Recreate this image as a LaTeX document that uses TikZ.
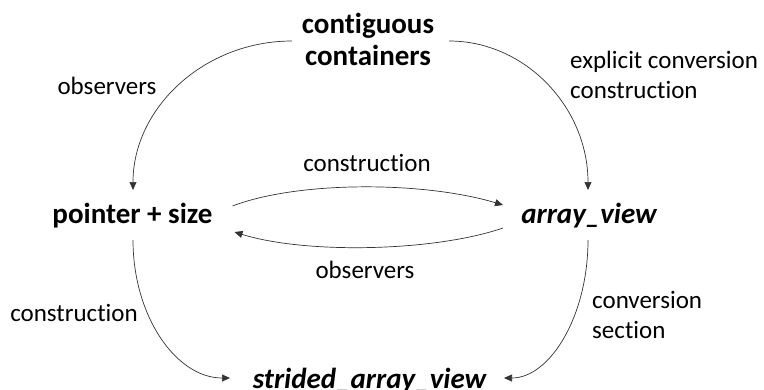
\documentclass[tikz,border=0pt]{standalone}
\usepackage{fontspec}
\setmainfont{Carlito}[Ligatures=NoCommon]
\usetikzlibrary{arrows.meta,calc}
\begin{document}
\begin{tikzpicture}[x=1pt,y=-1pt,
  title/.style={font=\fontsize{29}{32}\selectfont\bfseries, inner sep=0pt, anchor=base, align=center},
  lbltext/.style={font=\fontsize{25}{30}\selectfont, inner sep=0pt, anchor=base},
  edgeline/.style={draw=black!80, line width=0.7pt, -{Triangle[length=8pt,width=7pt]}}
]
\useasboundingbox (0,0) rectangle (764,389);

% the four kinds of views (multi-line nodes sit on their last baseline)
\node[title] (cc)  at (368,65)    {contiguous\\containers};
\node[title] (ptr) at (132.5,223) {pointer + size};
\node[title] (av)  at (589,223)   {\itshape array\_view};
\node[title] (sav) at (369.5,388) {\itshape strided\_array\_view};

% edge labels
\node[lbltext] (obsL)  at (107,94)  {observers};
\node[lbltext, anchor=base west, align=left] (expl) at (570,98) {explicit conversion\\construction};
\node[lbltext] (consT) at (367,171) {construction};
\node[lbltext] (obsM)  at (365,278) {observers};
\node[lbltext] (consL) at (74,321)  {construction};
\node[lbltext, anchor=base west, align=left] (convs) at (592,338) {conversion\\section};

% containers -> pointer + size / array_view
\draw[edgeline] ($(cc.base)+(-76,-24)$) .. controls +(-88,0) and +(0,-82) .. ($(ptr.base)+(0.5,-33)$);
\draw[edgeline] ($(cc.base)+(81,-24)$) .. controls +(77,0) and +(0,-82) .. ($(av.base)+(-1,-33)$);

% pointer + size <-> array_view
\draw[edgeline] ($(ptr.base)+(100,-17)$) .. controls +(65,-25) and +(-80,-24) .. ($(av.base)+(-86,-18)$);
\draw[edgeline] ($(av.base)+(-86,5)$) .. controls +(-70,24) and +(70,22) .. ($(ptr.base)+(102,9)$);

% down to the strided view
\draw[edgeline] ($(ptr.base)+(0.5,17)$) .. controls +(0,76) and +(-54,0) .. ($(sav.base)+(-139.5,-10)$);
\draw[edgeline] ($(av.base)+(-1,17)$) .. controls +(0,76) and +(46,0) .. ($(sav.base)+(134.5,-10)$);
\end{tikzpicture}
\end{document}
